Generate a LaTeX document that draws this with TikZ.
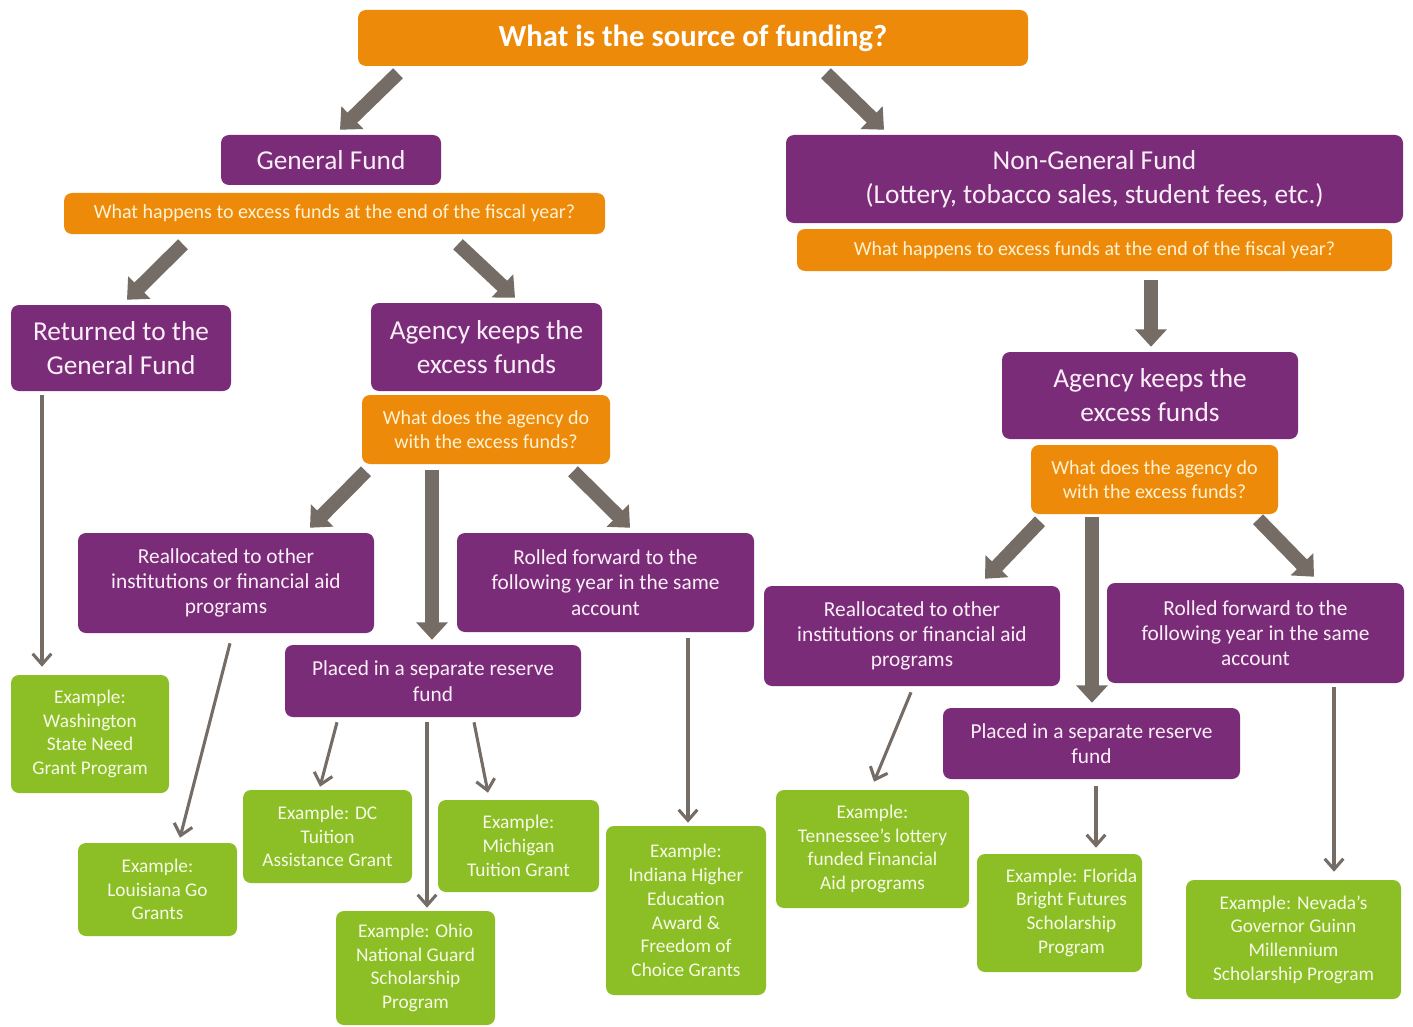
\documentclass[tikz,border=0pt]{standalone}
\usepackage{fontspec}
\setmainfont{Carlito}
\usetikzlibrary{arrows.meta,calc}
\definecolor{pur}{HTML}{7A2C78}
\definecolor{org}{HTML}{ED8A0A}
\definecolor{grn}{HTML}{8CBF26}
\definecolor{arr}{HTML}{756C65}
\definecolor{purtxt}{HTML}{FBEEF8}
\definecolor{orgtxt}{HTML}{FFF2D2}
\definecolor{grntxt}{HTML}{F6FAE6}
\tikzset{
  sz/.style 2 args={minimum width=#1*0.75pt,minimum height=#2*0.75pt},
  box/.style={rounded corners=6pt,inner sep=0pt,align=center},
  pbig/.style={box,fill=pur,text=purtxt,font=\fontsize{20.5}{25.5}\selectfont},
  pmid/.style={box,fill=pur,text=purtxt,font=\fontsize{16}{19}\selectfont},
  obox/.style={box,fill=org,text=orgtxt,font=\fontsize{15}{18}\selectfont},
  gbox/.style={box,fill=grn,text=grntxt,font=\fontsize{14.5}{17.8}\selectfont},
  big/.style={draw=arr,line width=10.5pt,-{Triangle[length=13pt,width=23pt]}},
  thin/.style={draw=arr,line width=2.3pt,-{Straight Barb[length=8pt,width=14pt]}}
}
\begin{document}
\begin{tikzpicture}[x=0.75pt,y=-0.75pt]
\fill[white] (0,0) rectangle (1413,1027);
\useasboundingbox (0,0) rectangle (1413,1027);
% top
\node[box,fill=org,text=white,font=\fontsize{23}{27}\selectfont\bfseries,sz={670}{56}] (title) at (693,38) {\raisebox{-2.5pt}{What is the source of funding?}};
\node[pbig,sz={220}{50}] (gf) at (331,160) {General Fund};
\node[obox,sz={541}{41}] (q1) at (334.5,213.5) {What happens to excess funds at the end of the fiscal year?};
\node[pbig,sz={617}{88}] (ngf) at (1094.5,179) {Non-General Fund\\(Lottery, tobacco sales, student fees, etc.)};
\node[obox,sz={595}{42}] (q2) at (1094.5,250) {What happens to excess funds at the end of the fiscal year?};
% level 2
\node[pbig,sz={220}{86}] (ret) at (121,348) {Returned to the\\General Fund};
\node[pbig,sz={231}{88}] (akL) at (486.5,347) {Agency keeps the\\excess funds};
\node[obox,sz={248}{69}] (q3) at (486,429.5) {What does the agency do\\with the excess funds?};
\node[pbig,sz={296}{87}] (akR) at (1150,395.5) {Agency keeps the\\excess funds};
\node[obox,sz={247}{69}] (q4) at (1154.5,479.5) {What does the agency do\\with the excess funds?};
% level 3
\node[pmid,sz={296}{100}] (reL) at (226,583) {Reallocated to other\\institutions or financial aid\\programs};
\node[pmid,sz={297}{99}] (rfL) at (605.5,582.5) {Rolled forward to the\\following year in the same\\account};
\node[pmid,sz={296}{72}] (prL) at (433,681) {Placed in a separate reserve\\fund};
\node[pmid,sz={296}{100}] (reR) at (912,636) {Reallocated to other\\institutions or financial aid\\programs};
\node[pmid,sz={297}{100}] (rfR) at (1255.5,633) {Rolled forward to the\\following year in the same\\account};
\node[pmid,sz={297}{71}] (prR) at (1091.5,743.5) {Placed in a separate reserve\\fund};
% examples
\node[gbox,sz={158}{118}] (gWa) at (90,734) {Example:\\Washington\\State Need\\Grant Program};
\node[gbox,sz={159}{93}] (gLo) at (157.5,889.5) {Example:\\Louisiana Go\\Grants};
\node[gbox,sz={169}{93}] (gDC) at (327.5,836.5) {Example: DC\\Tuition\\Assistance Grant};
\node[gbox,sz={161}{92}] (gMi) at (518.5,846) {Example:\\Michigan\\Tuition Grant};
\node[gbox,sz={159}{114}] (gOh) at (415.5,968) {Example: Ohio\\National Guard\\Scholarship\\Program};
\node[gbox,sz={160}{169}] (gIn) at (686,910.5) {Example:\\Indiana Higher\\Education\\Award \&\\Freedom of\\Choice Grants};
\node[gbox,sz={193}{118}] (gTn) at (872.5,849) {Example:\\Tennessee’s lottery\\funded Financial\\Aid programs};
\node[gbox,sz={165}{118}] (gFl) at (1059.5,913) {\hspace*{18pt}\begin{tabular}{@{}c@{}}Example: Florida\\Bright Futures\\Scholarship\\Program\end{tabular}};
\node[gbox,sz={215}{119}] (gNv) at (1293.5,939.5) {Example: Nevada’s\\Governor Guinn\\Millennium\\Scholarship Program};
% block arrows
\draw[big] ($(title.south)+(-295,7)$) -- ($(gf.north)+(9,-5)$);
\draw[big] ($(title.south)+(133,7)$) -- ($(ngf.north)+(-210.5,-5)$);
\draw[big] ($(q1.south)+(-151.5,10)$) -- ($(ret.north)+(6,-5)$);
\draw[big] ($(q1.south)+(123.5,10)$) -- ($(akL.north)+(28.5,-5)$);
\draw[big] ($(q2.south)+(56.5,9)$) -- ($(akR.north)+(1,-5)$);
\draw[big] ($(q3.south)+(-120,7)$) -- ($(reL.north)+(84,-5)$);
\draw[big] ($(q3.south)+(-54,6)$) -- ($(prL.north)+(-1,-5)$);
\draw[big] ($(q3.south)+(87,7)$) -- ($(rfL.north)+(24.5,-5)$);
\draw[big] ($(q4.south)+(-114.5,7)$) -- ($(reR.north)+(73,-7)$);
\draw[big] ($(q4.south)+(-62.5,3)$) -- ($(prR.north)+(0.5,-5)$);
\draw[big] ($(q4.south)+(103.5,5)$) -- ($(rfR.north)+(58.5,-6)$);
% thin arrows
\draw[thin] ($(ret.south)+(-79,4)$) -- ($(gWa.north)+(-48,-8)$);
\draw[thin] ($(reL.south)+(4,10)$) -- ($(gLo.north)+(22.5,-5)$);
\draw[thin] ($(prL.south)+(-96,5)$) -- ($(gDC.north)+(-7.5,-3)$);
\draw[thin] ($(prL.south)+(-6,5)$) -- ($(gOh.north)+(11.5,-3)$);
\draw[thin] ($(prL.south)+(41,5)$) -- ($(gMi.north)+(-30.5,-7)$);
\draw[thin] ($(rfL.south)+(82.5,6)$) -- ($(gIn.north)+(2,-3)$);
\draw[thin] ($(reR.south)+(-1,6)$) -- ($(gTn.north)+(1.5,-8)$);
\draw[thin] ($(prR.south)+(4.5,7)$) -- ($(gFl.north)+(36.5,-6)$);
\draw[thin] ($(rfR.south)+(78.5,4)$) -- ($(gNv.north)+(40.5,-8)$);
\end{tikzpicture}
\end{document}
